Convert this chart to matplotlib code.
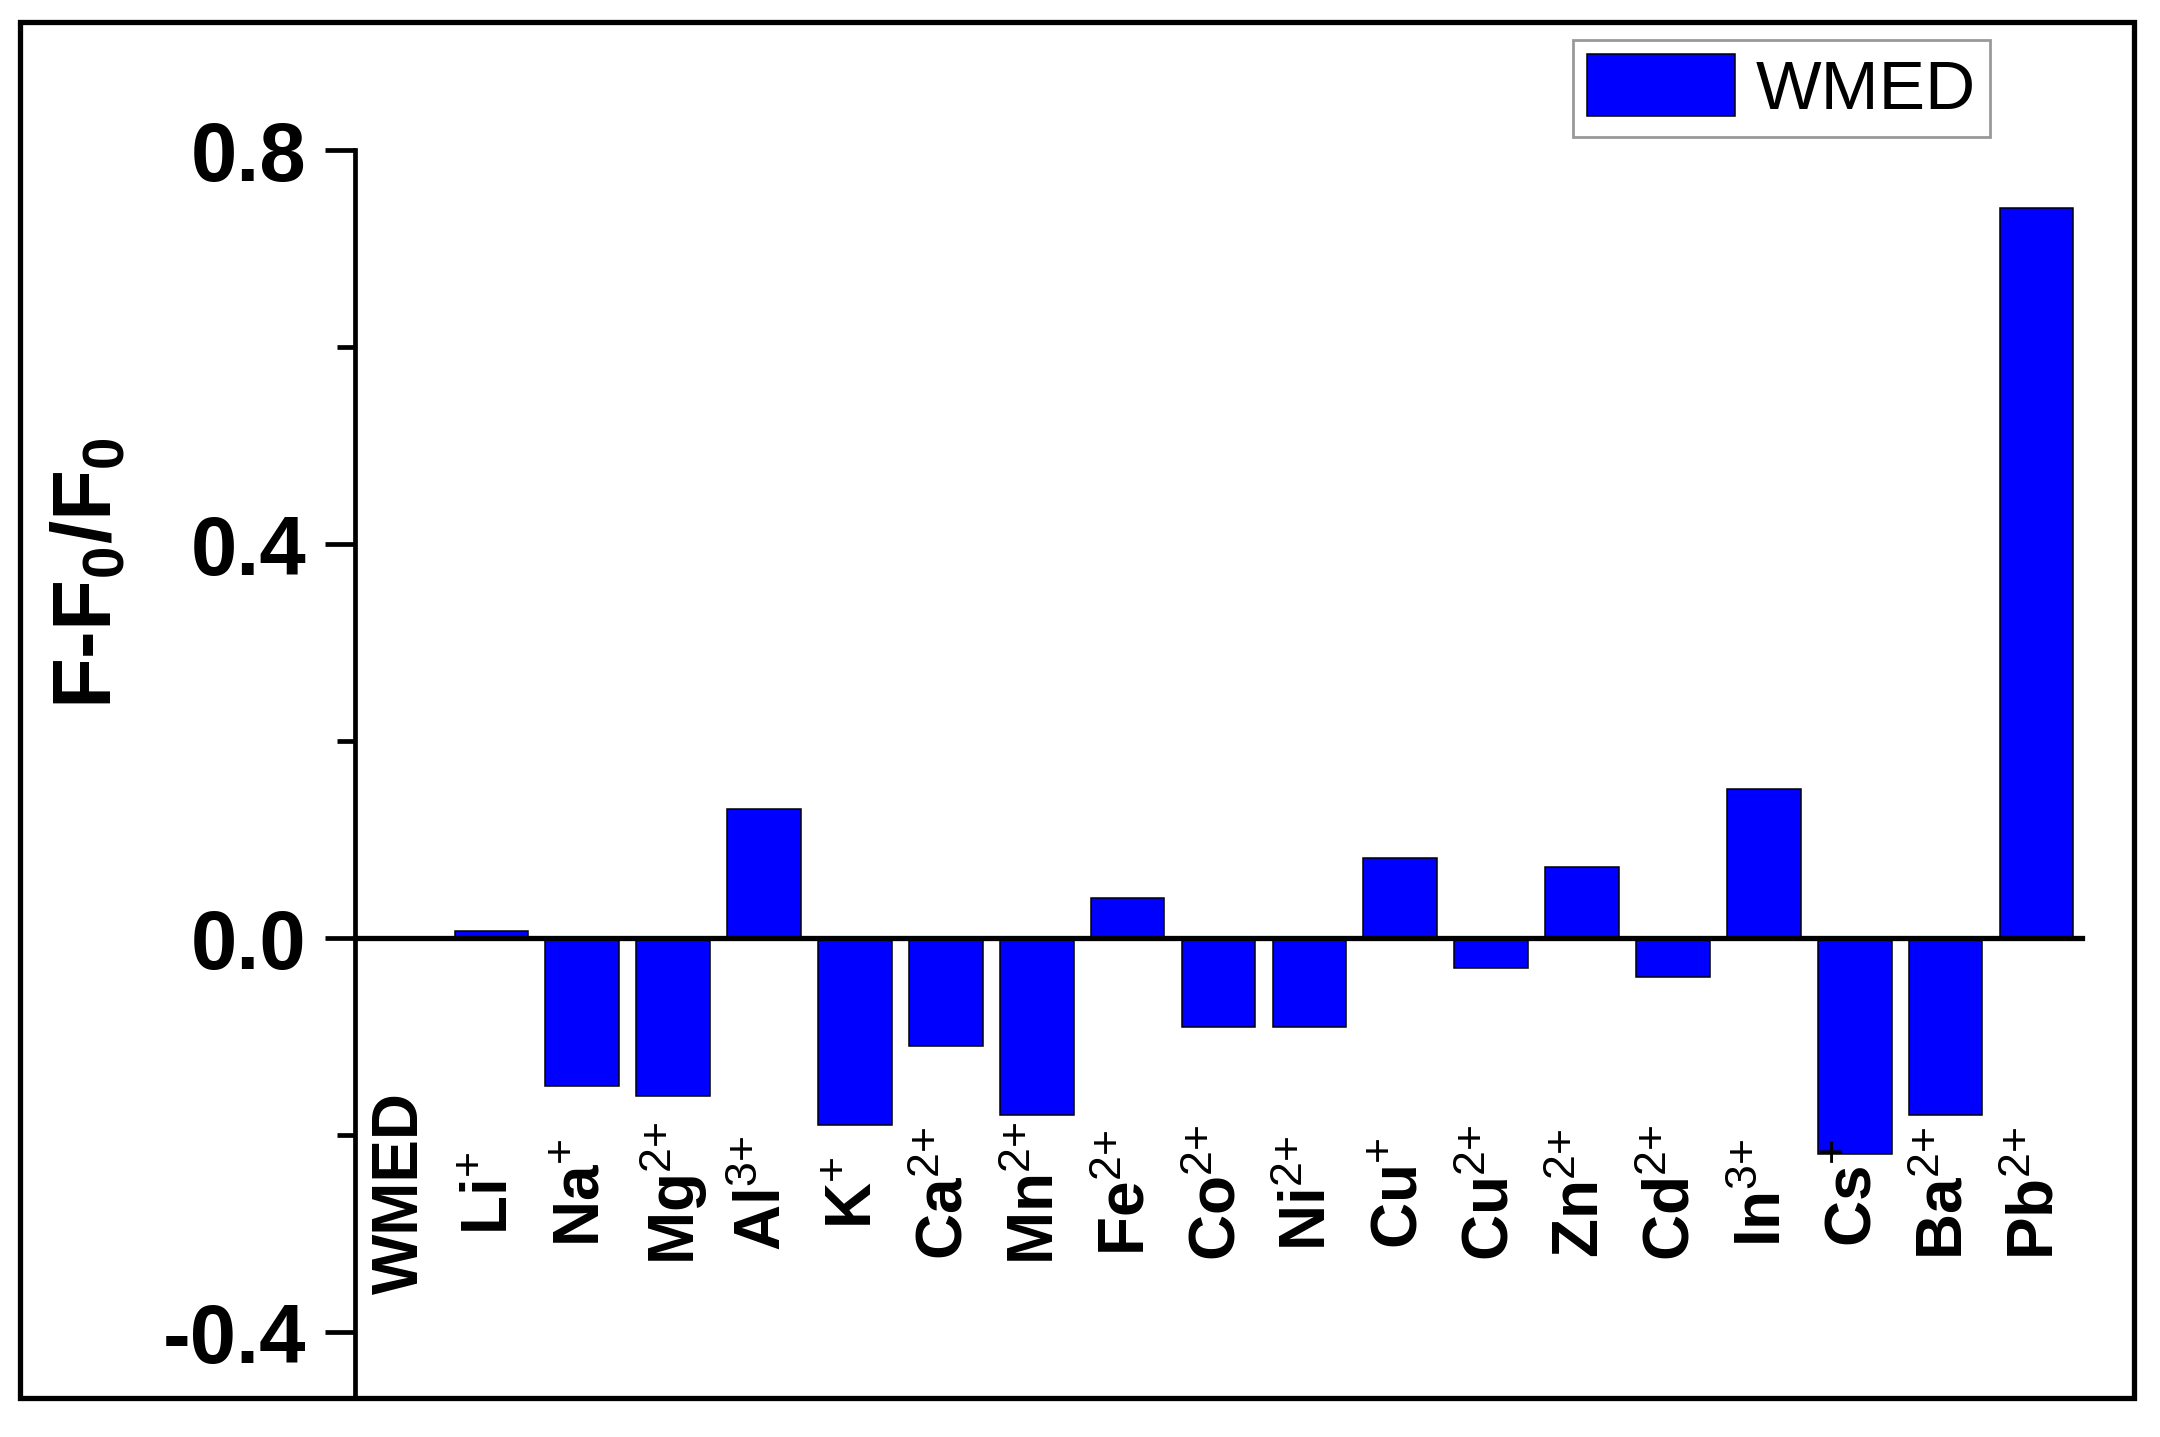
import matplotlib
matplotlib.use('Agg')
import matplotlib.pyplot as plt
from matplotlib.patches import Rectangle
from matplotlib.ticker import FixedLocator, FormatStrFormatter
import numpy as np

plt.rcParams['font.family'] = ['Liberation Sans', 'DejaVu Sans']
plt.rcParams['mathtext.fontset'] = 'custom'
plt.rcParams['mathtext.rm'] = 'Liberation Sans'
plt.rcParams['mathtext.it'] = 'Liberation Sans:italic'
plt.rcParams['mathtext.bf'] = 'Liberation Sans:bold'
plt.rcParams['axes.unicode_minus'] = False

# ---- data ----
ions = ['WMED', 'Li', 'Na', 'Mg', 'Al', 'K', 'Ca', 'Mn', 'Fe', 'Co', 'Ni',
        'Cu', 'Cu', 'Zn', 'Cd', 'In', 'Cs', 'Ba', 'Pb']
charges = ['', '+', '+', '2+', '3+', '+', '2+', '2+', '2+', '2+', '2+',
           '+', '2+', '2+', '2+', '3+', '+', '2+', '2+']
values = [0.0, 0.007, -0.150, -0.160, 0.131, -0.190, -0.110, -0.180, 0.041,
          -0.090, -0.090, 0.081, -0.030, 0.072, -0.040, 0.151, -0.219, -0.180, 0.741]
series_name = 'WMED'
major_ticks = [-0.4, 0.0, 0.4, 0.8]
minor_ticks = [-0.2, 0.2, 0.6]

W, H = 2160, 1437
fig = plt.figure(figsize=(W / 100, H / 100), dpi=100)
ax = fig.add_axes([355 / W, 39 / H, 1727 / W, 1248 / H])

x = np.arange(len(ions))
ax.bar(x, values, width=0.81, color='#0000FF', edgecolor='black',
       linewidth=1.1, label=series_name, zorder=1)

ax.set_xlim(-0.5, 18.5)
ax.set_ylim(-0.467, 0.8)

# spines
for s in ['top', 'right']:
    ax.spines[s].set_visible(False)
ax.spines['left'].set_linewidth(3.4)
ax.spines['bottom'].set_position(('data', 0))
ax.spines['bottom'].set_linewidth(3.8)
ax.tick_params(axis='x', length=0, labelbottom=False)

ax.yaxis.set_major_locator(FixedLocator(major_ticks))
ax.yaxis.set_minor_locator(FixedLocator(minor_ticks))
ax.yaxis.set_major_formatter(FormatStrFormatter('%.1f'))
ax.tick_params(axis='y', which='major', direction='out', length=21.5, width=3.4,
               pad=13.5, labelsize=60)
ax.tick_params(axis='y', which='minor', direction='out', length=13, width=3.4)
for lab in ax.get_yticklabels():
    lab.set_fontweight('bold')

ax.set_ylabel(r'F-F$_\mathbf{0}$/F$_\mathbf{0}$', fontsize=60, fontweight='bold',
              va='center', ha='center')
ax.yaxis.set_label_coords(-0.154, 0.661)


def sup_label(name, ch):
    if ch == '':
        return name
    ch_tex = ch.replace('+', '{+}')
    return name + r'$^{' + ch_tex + r'}$'


# category labels inside the plot area
for xi, name, ch in zip(x, ions, charges):
    ax.text(xi, -0.259, sup_label(name, ch), rotation=90, ha='center', va='center',
            fontsize=46, fontweight='bold', zorder=5)

# legend
leg = ax.legend(loc='upper left', bbox_to_anchor=(1573 / W, 1 - 40 / H),
                bbox_transform=fig.transFigure, borderaxespad=0,
                fontsize=50, frameon=True, fancybox=False,
                handlelength=2.13, handleheight=1.0, handletextpad=0.3,
                borderpad=0.2)
leg.get_frame().set_edgecolor('#808080')
leg.get_frame().set_linewidth(2.0)

# outer frame
fig.add_artist(Rectangle((20 / W, 39 / H), (2134 - 20) / W, (1437 - 22 - 39) / H,
                         transform=fig.transFigure, fill=False,
                         edgecolor='black', linewidth=3.8))

fig.savefig('out.png', dpi=100)
